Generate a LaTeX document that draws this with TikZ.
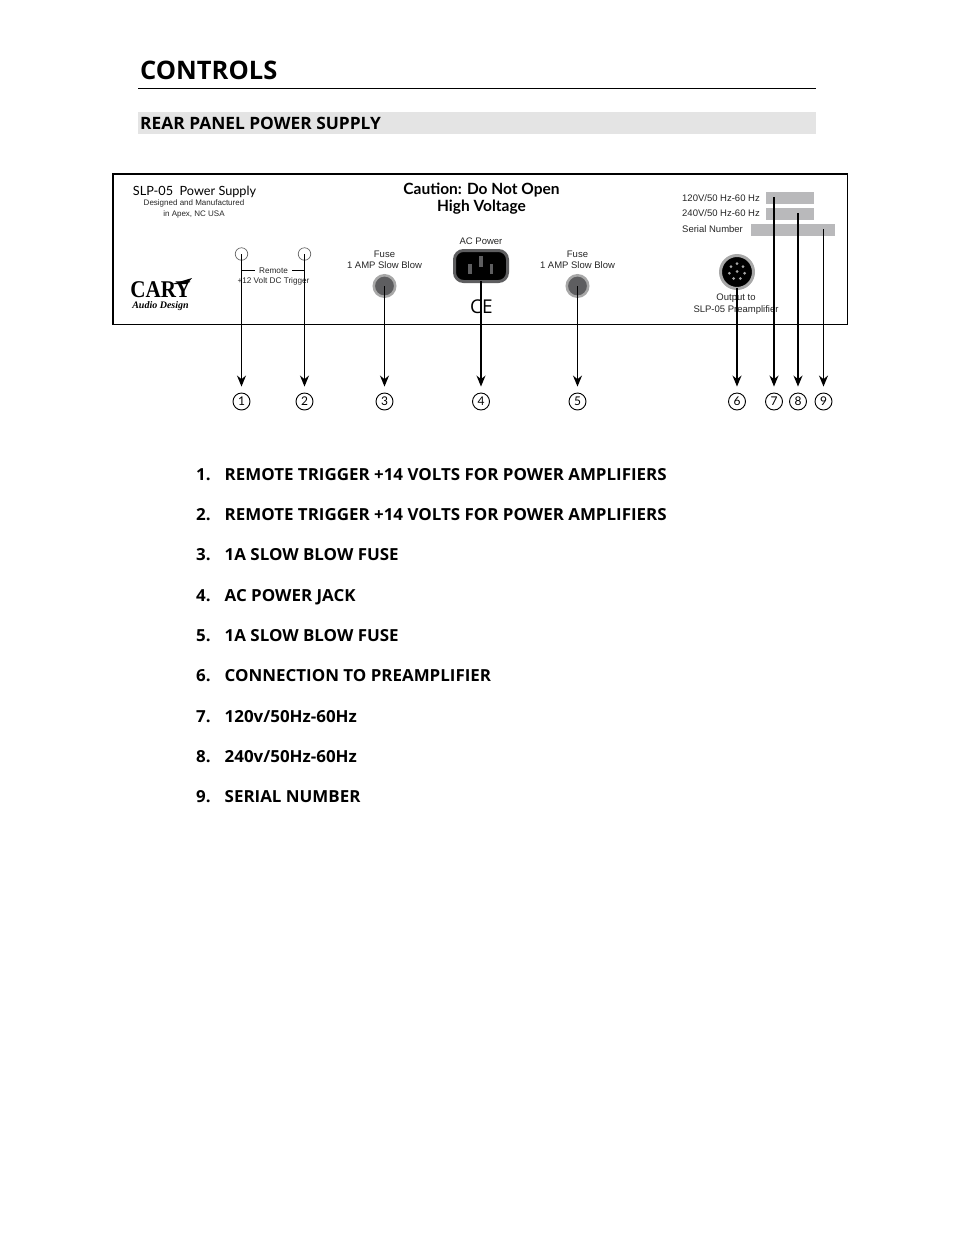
\documentclass[tikz,border=0pt]{standalone}
\usepackage{fontspec}
\setmainfont{Liberation Sans}
\newfontfamily\headfont{Open Sans}
\newfontfamily\listfont[FakeStretch=1.02]{Open Sans}
\newfontfamily\panelfont[Numbers=Lining]{Lato}
\newfontfamily\logofont{Liberation Serif}
\usetikzlibrary{arrows.meta,calc}

\definecolor{bandgray}{HTML}{E4E4E4}
\definecolor{bargray}{HTML}{B9B9BB}
\definecolor{ringgray}{HTML}{A8A8A8}
\definecolor{capgray}{HTML}{5E5E60}

\tikzset{panel text/.style={inner sep=0pt, align=center, text=black!85, font=\fontsize{9.5}{11.5}\selectfont},
         small text/.style={panel text, font=\fontsize{8.2}{11}\selectfont},
         list text/.style={inner sep=0pt, anchor=base west, font=\listfont\bfseries\fontsize{16.6}{18}\selectfont},
         serial bar/.style={fill=bargray, draw=none, inner sep=0pt},
         hole/.style={draw=black!60, circle, inner sep=0pt, minimum size=12.5pt, line width=.7pt},
         fuse/.style={circle, draw=ringgray, fill=capgray, line width=2.5pt, inner sep=0pt, minimum size=21.5pt},
         callout/.style={draw, circle, inner sep=0pt, minimum size=17pt, line width=.9pt,
                         font=\panelfont\fontsize{12}{12}\selectfont},
         pointer/.style={-{Stealth[length=11pt,width=9pt]}, line width=1.3pt, shorten >=6pt}}

\begin{document}
\begin{tikzpicture}[x=1pt, y=-1pt]
  \useasboundingbox (0,0) rectangle (954,1235);

  % heading
  \node[inner sep=0pt, anchor=base west, font=\headfont\bfseries\fontsize{25.5}{30}\selectfont]
    (title) at (140,79) {CONTROLS};
  \draw[line width=1pt] (138,88.5) -- (816,88.5);
  \fill[bandgray] (138,112) rectangle (816,133.5);
  \node[inner sep=0pt, anchor=base west, font=\listfont\bfseries\fontsize{17}{18}\selectfont]
    (section) at (140,129) {REAR PANEL POWER SUPPLY};

  % rear panel
  \draw[line width=1.2pt] (113,174) rectangle (847.5,324.5);
  \node[inner sep=0pt, font=\panelfont\fontsize{12.7}{16}\selectfont] (model) at (194.5,192) {SLP-05\ \ Power Supply};
  \node[small text, font=\fontsize{8}{11}\selectfont] (maker) at (194,208.5) {Designed and Manufactured\\in Apex, NC USA};
  \node[inner sep=0pt, align=center, font=\panelfont\bfseries\fontsize{15.5}{17}\selectfont] (caution) at (481.5,199)
    {Caution: Do Not Open\\High Voltage};

  % logo
  \node[inner sep=0pt, font=\logofont\bfseries\fontsize{24}{24}\selectfont, xscale=.88] (cary) at (160.5,289.5) {CARY};
  \fill (172,284) -- (192,278) -- (187,284) -- cycle;
  \node[inner sep=0pt, font=\logofont\bfseries\itshape\fontsize{10}{10}\selectfont] (audio) at (160.5,306.5) {Audio Design};

  % remote trigger
  \node[hole] (hole1) at (241.5,254) {};
  \node[hole] (hole2) at (304.5,254) {};
  \node[small text] (remote) at (273.5,270.5) {Remote};
  \node[small text] (trigger) at (273.5,281.5) {+12 Volt DC Trigger};
  \coordinate (tickL) at (241.5,270.5);
  \coordinate (tickR) at (304.5,270.5);
  \draw[line width=.5pt, shorten >=4pt] (tickL) -- (remote.west);
  \draw[line width=.5pt, shorten >=4pt] (tickR) -- (remote.east);

  % fuses
  \node[panel text] (fuseL text) at (384.5,260) {Fuse\\1 AMP Slow Blow};
  \node[panel text] (fuseR text) at (577.5,260) {Fuse\\1 AMP Slow Blow};
  \node[fuse] (fuseL) at (384.5,286) {};
  \node[fuse] (fuseR) at (577.5,286) {};

  % power inlet
  \node[panel text] (ac text) at (481,241) {AC Power};
  \node[draw=capgray, fill=black, rounded corners=9pt, line width=3pt, inner sep=0pt,
        minimum width=53pt, minimum height=31pt] (inlet) at (481,266) {};
  \foreach \name/\xpos/\ypos in {pinL/470/269, pinM/481/261.5, pinR/491.5/269}
    \node[fill=capgray, inner sep=0pt, minimum width=3.5pt, minimum height=10.5pt] (\name) at (\xpos,\ypos) {};
  \node[inner sep=0pt, font=\headfont\fontsize{19}{19}\selectfont] (ce) at (481.5,307) {CE};

  % preamplifier output
  \node[circle, fill=black, draw=ringgray, line width=3pt, inner sep=0pt, minimum size=33pt] (din) at (737,272) {};
  \node[circle, fill=ringgray, inner sep=0pt, minimum size=3pt] (pin0) at (737,271.5) {};
  \foreach \ang in {-90,-39,13,64,116,167,219}
    \node[circle, fill=ringgray, inner sep=0pt, minimum size=3pt] (pin\ang) at ($(737,271.5)+(\ang:7.8)$) {};
  \node[panel text] (din text) at (736,304) {Output to\\SLP-05 Preamplifier};

  % voltage and serial labels
  \node[panel text, anchor=west] (v120) at (682,198) {120V/50 Hz-60 Hz};
  \node[panel text, anchor=west] (v240) at (682,213.5) {240V/50 Hz-60 Hz};
  \node[panel text, anchor=west] (serial) at (682,229.5) {Serial Number};
  \node[serial bar, minimum width=48pt, minimum height=12pt] (bar120) at (790,198) {};
  \node[serial bar, minimum width=48pt, minimum height=11.5pt] (bar240) at (790,213.8) {};
  \node[serial bar, minimum width=84pt, minimum height=12pt] (barserial) at (793,230) {};
  \coordinate (from7) at (774,197);
  \coordinate (from8) at (798,213);
  \coordinate (from9) at (823.5,229);
  \coordinate (from6) at (737,288);
  \coordinate (from4) at (481,281);

  % callouts
  \foreach \idx/\xpos in {1/241.5, 2/304.5, 3/384.5, 4/481, 5/577.5, 6/737, 7/774, 8/798, 9/823.5}
    \node[callout] (num\idx) at (\xpos,401.5) {\idx};
  \foreach \from/\idx in {hole1/1, hole2/2, fuseL/3, from4/4, fuseR/5, from6/6, from7/7, from8/8, from9/9}
    \draw[pointer] (\from.center) -- (num\idx.north);

  % parts list
  \foreach \idx/\ypos/\what in {1/480/REMOTE TRIGGER +14 VOLTS FOR POWER AMPLIFIERS,
                                2/520/REMOTE TRIGGER +14 VOLTS FOR POWER AMPLIFIERS,
                                3/560/1A SLOW BLOW FUSE,
                                4/601/AC POWER JACK,
                                5/641/1A SLOW BLOW FUSE,
                                6/681/CONNECTION TO PREAMPLIFIER,
                                7/722/{120v/50Hz-60Hz},
                                8/762/{240v/50Hz-60Hz},
                                9/802/SERIAL NUMBER}
  {
    \node[list text] (no\idx) at (196,\ypos) {\idx.};
    \node[list text] (item\idx) at (224.5,\ypos) {\what};
  }
\end{tikzpicture}
\end{document}
